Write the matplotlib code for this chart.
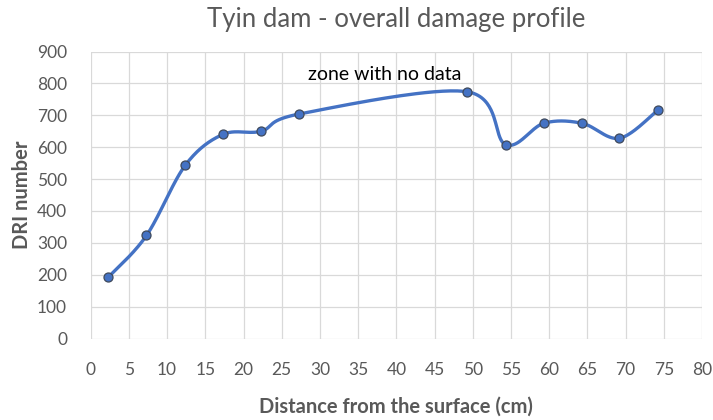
import numpy as np
import matplotlib
matplotlib.use("Agg")
import matplotlib.pyplot as plt

# Damage rating index measured along the core
distance_cm = [2.3, 7.3, 12.4, 17.3, 22.3, 27.3, 49.2, 54.3, 59.3, 64.3, 69.2, 74.3]
dri_number = [192, 323, 544, 640, 650, 704, 774, 608, 675, 675, 628, 718]

x_ticks = list(range(0, 81, 5))
y_ticks = list(range(0, 901, 100))

LINE_BLUE = "#4472C4"
TEXT_GRAY = "#595959"
GRID_GRAY = "#D9D9D9"
FONT = ["Lato", "DejaVu Sans"]
W, H = 713, 420


def smooth_curve(xs, ys, steps=40):
    """Catmull-Rom style smoothing through every point (cubic Bezier segments)."""
    pts = np.column_stack([xs, ys]).astype(float)
    n = len(pts)
    out = [pts[0]]
    t = np.linspace(0, 1, steps)[1:]
    for i in range(n - 1):
        p0 = pts[i - 1] if i > 0 else pts[i]
        p1 = pts[i]
        p2 = pts[i + 1]
        p3 = pts[i + 2] if i + 2 < n else pts[i + 1]
        c1 = p1 + (p2 - p0) / 6.0
        c2 = p2 - (p3 - p1) / 6.0
        seg = ((1 - t) ** 3)[:, None] * p1 + (3 * (1 - t) ** 2 * t)[:, None] * c1 \
            + (3 * (1 - t) * t ** 2)[:, None] * c2 + (t ** 3)[:, None] * p2
        out.extend(seg)
    out = np.array(out)
    return out[:, 0], out[:, 1]


fig = plt.figure(figsize=(W / 100, H / 100), dpi=100)
ax = fig.add_axes([90.7 / W, 1 - 338.5 / H, (702 - 90.7) / W, 287 / H])

sx, sy = smooth_curve(distance_cm, dri_number)
ax.plot(sx, sy, color=LINE_BLUE, lw=2.4, solid_capstyle="round", zorder=3)
ax.plot(distance_cm, dri_number, linestyle="none", marker="o", ms=6.5,
        mfc=LINE_BLUE, mec="#3F4A5C", mew=0.9, zorder=4)

ax.set_xlim(0, 80)
ax.set_ylim(0, 900)
ax.set_xticks(x_ticks)
ax.set_yticks(y_ticks)
ax.grid(True, color=GRID_GRAY, lw=0.9)
ax.set_axisbelow(True)
for s in ax.spines.values():
    s.set_visible(False)
ax.tick_params(axis="x", length=0, labelsize=12.5, labelcolor=TEXT_GRAY, pad=17)
ax.tick_params(axis="y", length=0, labelsize=12.5, labelcolor=TEXT_GRAY, pad=17)
for lab in ax.get_xticklabels() + ax.get_yticklabels():
    lab.set_fontfamily(FONT)

fig.text((90.7 + 702) / 2 / W, 1 - 413 / H, "Distance from the surface (cm)",
         ha="center", va="baseline", fontsize=14.5, fontweight="bold",
         color=TEXT_GRAY, family=FONT)
fig.text(22 / W, 1 - 195 / H, "DRI number", rotation=90, ha="center", va="center",
         fontsize=14.5, fontweight="bold", color=TEXT_GRAY, family=FONT)

ax.text(38.5, 829, "zone with no data", ha="center", va="center",
        fontsize=14, color="black", family=FONT)

fig.text((90.7 + 702) / 2 / W, 1 - 27 / H, "Tyin dam - overall damage profile",
         ha="center", va="baseline", fontsize=18.5, color=TEXT_GRAY, family=FONT)

fig.savefig("out.png", dpi=100, facecolor="white")
